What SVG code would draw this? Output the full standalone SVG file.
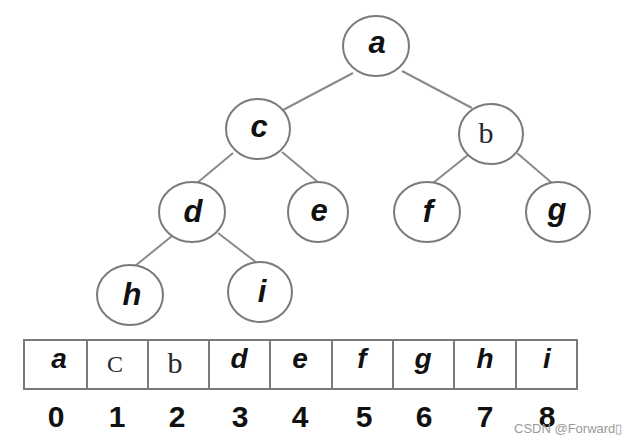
<svg xmlns="http://www.w3.org/2000/svg" width="632" height="443" viewBox="0 0 632 443">
<style>
.node ellipse{fill:#fff;stroke:#7a7a7a;stroke-width:2}
.edges line{stroke:#8a8a8a;stroke-width:2}
.lbl{font-family:"Liberation Sans",Arial,sans-serif;font-weight:bold;font-style:italic;font-size:31px;fill:#111;text-anchor:middle}
.ser{font-family:"Liberation Serif","Times New Roman",serif;font-size:30px;fill:#2a2630;text-anchor:middle}
.cell{fill:#fff;stroke:#7a7a7a;stroke-width:2}
.clbl{font-family:"Liberation Sans",Arial,sans-serif;font-weight:bold;font-style:italic;font-size:28px;fill:#111;text-anchor:middle}
.idx{font-family:"Liberation Sans",Arial,sans-serif;font-weight:bold;font-size:30px;fill:#111;text-anchor:middle}
.wm{font-family:"Liberation Sans",Arial,sans-serif;font-size:13px;fill:#9a9a9a}
</style>
<rect width="632" height="443" fill="#fff"/>
<g id="connectors" class="edges">
<line x1="353" y1="73" x2="283" y2="110"/>
<line x1="402" y1="71" x2="472" y2="108"/>
<line x1="233" y1="153" x2="197" y2="183"/>
<line x1="282" y1="152" x2="319" y2="183"/>
<line x1="468" y1="155" x2="433" y2="183"/>
<line x1="517" y1="153" x2="552" y2="183"/>
<line x1="172" y1="236" x2="135" y2="266"/>
<line x1="218" y1="233" x2="257" y2="263"/>
</g>
<g id="node-a" class="node"><ellipse cx="376" cy="46" rx="33" ry="30"/><text class="lbl" x="377" y="53">a</text></g>
<g id="node-c" class="node"><ellipse cx="258" cy="129" rx="32" ry="30"/><text class="lbl" x="259" y="137">c</text></g>
<g id="node-b" class="node"><ellipse cx="491" cy="134" rx="32" ry="30"/><text class="ser" x="486" y="143">b</text></g>
<g id="node-d" class="node"><ellipse cx="192" cy="212" rx="33" ry="30"/><text class="lbl" x="193" y="222">d</text></g>
<g id="node-e" class="node"><ellipse cx="318" cy="212" rx="30" ry="30"/><text class="lbl" x="319" y="221">e</text></g>
<g id="node-f" class="node"><ellipse cx="427" cy="212" rx="33" ry="30"/><text class="lbl" x="428" y="222">f</text></g>
<g id="node-g" class="node"><ellipse cx="558" cy="212" rx="32" ry="30"/><text class="lbl" x="557" y="220">g</text></g>
<g id="node-h" class="node"><ellipse cx="130" cy="295" rx="33" ry="30"/><text class="lbl" x="132" y="305">h</text></g>
<g id="node-i" class="node"><ellipse cx="260" cy="292" rx="32" ry="30"/><text class="lbl" x="262" y="302">i</text></g>
<g id="array">
<rect class="cell" x="24" y="340" width="63" height="49"/>
<rect class="cell" x="87" y="340" width="61" height="49"/>
<rect class="cell" x="148" y="340" width="61" height="49"/>
<rect class="cell" x="209" y="340" width="61" height="49"/>
<rect class="cell" x="270" y="340" width="62" height="49"/>
<rect class="cell" x="332" y="340" width="61" height="49"/>
<rect class="cell" x="393" y="340" width="61" height="49"/>
<rect class="cell" x="454" y="340" width="62" height="49"/>
<rect class="cell" x="516" y="340" width="61" height="49"/>
<text class="clbl" x="59" y="368">a</text>
<text class="ser" style="font-size:24px" x="115" y="372">C</text>
<text class="ser" x="175" y="373">b</text>
<text class="clbl" x="239" y="368">d</text>
<text class="clbl" x="300" y="368">e</text>
<text class="clbl" x="362" y="368">f</text>
<text class="clbl" x="423" y="368">g</text>
<text class="clbl" x="485" y="368">h</text>
<text class="clbl" x="547" y="368">i</text>
</g>
<g id="indices">
<text class="idx" x="56" y="427">0</text>
<text class="idx" x="117" y="427">1</text>
<text class="idx" x="177" y="427">2</text>
<text class="idx" x="240" y="427">3</text>
<text class="idx" x="300" y="427">4</text>
<text class="idx" x="364" y="427">5</text>
<text class="idx" x="424" y="427">6</text>
<text class="idx" x="485" y="427">7</text>
<text class="idx" x="547" y="427">8</text>
</g>
<text class="wm" x="514" y="433">CSDN @Forward▯</text>
</svg>
